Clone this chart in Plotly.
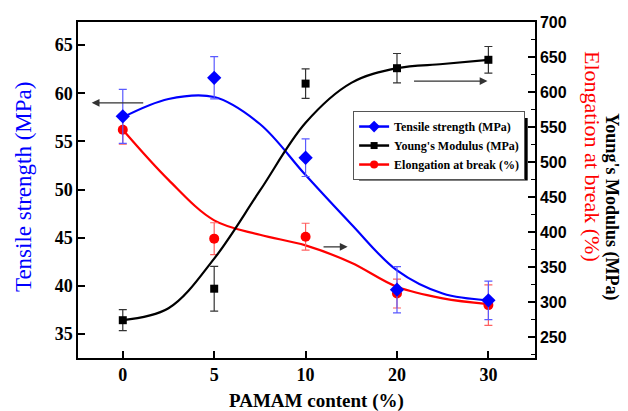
import plotly.graph_objects as go

# ---- data ----
categories = ["0", "5", "10", "20", "30"]
idx = [0, 1, 2, 3, 4]

tensile = [57.6, 61.6, 53.3, 39.6, 38.5]
tensile_err = [2.8, 2.2, 1.95, 2.4, 2.0]

young = [274, 319, 612, 634, 646]
young_err = [15, 32, 21, 21, 19]

elong = [56.2, 44.9, 45.1, 39.2, 38.0]
elong_err = [1.5, 1.65, 1.4, 1.5, 2.1]

# fitted (smooth) curves at category-index positions
fit_tensile_x = [0, 0.5, 1.0, 1.5, 2.0, 2.5, 3.0, 3.5, 4.0]
fit_tensile_y = [57.5, 59.4, 59.6, 56.8, 51.5, 46.4, 41.6, 39.2, 38.5]

fit_young_x = [0, 0.5, 1.0, 1.5, 2.0, 2.5, 3.0, 3.5, 4.0]
fit_young_y = [274, 291, 362, 459, 556, 613, 634, 640, 646]

fit_elong_x = [0, 0.5, 1.0, 1.5, 2.0, 2.5, 3.0, 3.5, 4.0]
fit_elong_y = [56.2, 51.0, 46.8, 45.3, 44.2, 42.4, 39.9, 38.7, 38.1]

BLUE = "#0000FF"
RED = "#FF0000"
BLACK = "#000000"
SERIF = "Liberation Serif"
SANS = "Liberation Sans"

fig = go.Figure()

# fit curves
fig.add_trace(go.Scatter(x=fit_tensile_x, y=fit_tensile_y, mode="lines",
                         line=dict(color=BLUE, width=2.2, shape="spline", smoothing=1.0),
                         showlegend=False, hoverinfo="skip"))
fig.add_trace(go.Scatter(x=fit_young_x, y=fit_young_y, mode="lines", yaxis="y2",
                         line=dict(color=BLACK, width=2.2, shape="spline", smoothing=1.0),
                         showlegend=False, hoverinfo="skip"))
fig.add_trace(go.Scatter(x=fit_elong_x, y=fit_elong_y, mode="lines",
                         line=dict(color=RED, width=2.2, shape="spline", smoothing=1.0),
                         showlegend=False, hoverinfo="skip"))

# data points with error bars
fig.add_trace(go.Scatter(x=idx, y=young, mode="markers", yaxis="y2",
                         marker=dict(symbol="square", size=8, color=BLACK),
                         error_y=dict(type="data", array=young_err, color="#333333",
                                      thickness=1.2, width=4),
                         showlegend=False))
fig.add_trace(go.Scatter(x=idx, y=elong, mode="markers",
                         marker=dict(symbol="circle", size=10, color=RED),
                         error_y=dict(type="data", array=elong_err, color="#FF6060",
                                      thickness=1.2, width=4),
                         showlegend=False))
fig.add_trace(go.Scatter(x=idx, y=tensile, mode="markers",
                         marker=dict(symbol="diamond", size=11, color=BLUE),
                         error_y=dict(type="data", array=tensile_err, color="#5A5AFF",
                                      thickness=1.2, width=4),
                         showlegend=False))

# legend entries
for name, col, sym, sz in [("Tensile strength (MPa)", BLUE, "diamond", 9),
                           ("Young's Modulus (MPa)", BLACK, "square", 7),
                           ("Elongation at break (%)", RED, "circle", 8)]:
    fig.add_trace(go.Scatter(x=[None], y=[None], mode="lines+markers",
                             name="<b>%s</b>" % name,
                             line=dict(color=col, width=2.5),
                             marker=dict(symbol=sym, size=sz, color=col)))

# legend shadow
fig.add_shape(type="rect", xref="paper", yref="paper",
              x0=0.615, x1=0.984, y0=0.528, y1=0.714,
              fillcolor="black", line=dict(width=0), layer="below")

# arrows
arrows = [
    dict(x=-0.34, y=59.0, ax=0.24, ay=59.0, yref="y", ayref="y"),
    dict(x=2.46, y=44.05, ax=2.18, ay=44.05, yref="y", ayref="y"),
    dict(x=3.99, y=615.6, ax=3.17, ay=615.6, yref="y2", ayref="y2"),
]
for a in arrows:
    fig.add_annotation(x=a["x"], y=a["y"], ax=a["ax"], ay=a["ay"],
                       xref="x", axref="x", yref=a["yref"], ayref=a["ayref"],
                       showarrow=True, arrowhead=2, arrowsize=1.2, arrowwidth=1.3,
                       arrowcolor="#333333", text="")

# axis titles as annotations
fig.add_annotation(text="Tensile strength (MPa)", xref="paper", yref="paper",
                   x=-0.118, y=0.509, xanchor="center", yanchor="middle",
                   textangle=-90, showarrow=False,
                   font=dict(family=SERIF, size=23, color=BLUE))
fig.add_annotation(text="Elongation at break (%)", xref="paper", yref="paper",
                   x=1.127, y=0.601, xanchor="center", yanchor="middle",
                   textangle=90, showarrow=False,
                   font=dict(family=SERIF, size=22, color=RED))
fig.add_annotation(text="<b>Young's Modulus (MPa)</b>", xref="paper", yref="paper",
                   x=1.168, y=0.449, xanchor="center", yanchor="middle",
                   textangle=90, showarrow=False,
                   font=dict(family=SERIF, size=18, color=BLACK))
fig.add_annotation(text="<b>PAMAM content (%)</b>", xref="paper", yref="paper",
                   x=0.521, y=-0.128, xanchor="center", yanchor="middle",
                   showarrow=False,
                   font=dict(family=SERIF, size=19, color=BLACK))

fig.update_layout(
    width=628, height=411,
    margin=dict(l=78, r=93, t=22, b=53),
    paper_bgcolor="white", plot_bgcolor="white",
    showlegend=True,
    legend=dict(x=0.602, y=0.735, xanchor="left", yanchor="top",
                bgcolor="white", bordercolor="#555555", borderwidth=1,
                font=dict(family=SERIF, size=12, color="black"),
                itemwidth=30, tracegroupgap=0),
    xaxis=dict(range=[-0.49, 4.51], tickmode="array", tickvals=idx,
               ticktext=["<b>%s</b>" % c for c in categories],
               showline=True, linecolor="black", linewidth=1.5, mirror=True,
               ticks="inside", ticklen=7, tickwidth=1.5, tickcolor="black",
               showgrid=False, zeroline=False,
               tickfont=dict(family=SERIF, size=18, color="black")),
    yaxis=dict(range=[32.51, 67.39], tickmode="array",
               tickvals=[35, 40, 45, 50, 55, 60, 65],
               ticktext=["<b>%d</b>" % v for v in [35, 40, 45, 50, 55, 60, 65]],
               showline=True, linecolor="black", linewidth=1.5,
               ticks="inside", ticklen=7, tickwidth=1.5, tickcolor="black",
               showgrid=False, zeroline=False,
               tickfont=dict(family=SERIF, size=18, color="black")),
    yaxis2=dict(range=[220, 700], overlaying="y", side="right", tickmode="array",
                tickvals=list(range(250, 701, 50)),
                ticktext=["<b>%d</b>" % v for v in range(250, 701, 50)],
                showline=True, linecolor="black", linewidth=1.5,
                ticks="inside", ticklen=7, tickwidth=1.5, tickcolor="black",
                minor=dict(tickvals=list(range(225, 700, 50)), ticks="inside",
                           ticklen=4, tickwidth=1.2, tickcolor="black"),
                showgrid=False, zeroline=False,
                tickfont=dict(family=SANS, size=16, color="black")),
)

fig.write_html("out.html")
